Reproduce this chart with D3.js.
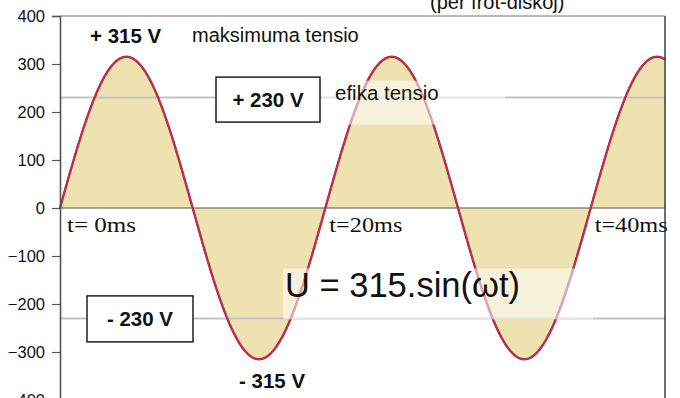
<!DOCTYPE html>
<html>
<head>
<meta charset="utf-8">
<script src="https://cdn.jsdelivr.net/npm/d3@7"></script>
<style>
  html, body { margin: 0; padding: 0; background: #fff; }
  svg { display: block; }
</style>
</head>
<body>
<svg id="chart" width="680" height="398"></svg>
<script>
// Mains voltage: U = 315·sin(ωt), 50 Hz (period 20 ms)
const amplitude = 315;          // peak voltage (V)
const rmsVoltage = 230;         // effective voltage (V)
const periodMs = 20;            // one cycle
const timeRange = [0, 45.6];    // ms shown
const yTicks = [400, 300, 200, 100, 0, -100, -200, -300, -400];
const timeMarks = [
  { t: 0, label: "t= 0ms" },
  { t: 20, label: "t=20ms" },
  { t: 40, label: "t=40ms" }
];

const svg = d3.select("#chart");
const plotLeft = 60, plotRight = 665, plotTop = 16, plotBottom = 400;

const x = d3.scaleLinear().domain(timeRange).range([plotLeft, plotRight]);
const y = d3.scaleLinear().domain([-400, 400]).range([plotBottom, plotTop]);

// sample the waveform finely along the visible time range
const samples = d3.range(timeRange[0], timeRange[1] + 0.0001, 0.05)
  .map(t => ({ t, u: amplitude * Math.sin(2 * Math.PI * t / periodMs) }));

const sans = "'Liberation Sans', Arial, sans-serif";
const serif = "'Liberation Serif', 'Times New Roman', serif";

// shaded area between curve and zero
svg.append("path")
  .datum(samples)
  .attr("fill", "#EEE2B0")
  .attr("d", d3.area().x(d => x(d.t)).y0(y(0)).y1(d => y(d.u)));

// ±230 V reference lines
[rmsVoltage, -rmsVoltage].forEach(v => {
  svg.append("line")
    .attr("x1", plotLeft).attr("x2", plotRight)
    .attr("y1", y(v)).attr("y2", y(v))
    .attr("stroke", "#c4c4c4").attr("stroke-width", 2);
});

// zero line
svg.append("line")
  .attr("x1", plotLeft).attr("x2", plotRight)
  .attr("y1", y(0)).attr("y2", y(0))
  .attr("stroke", "#555").attr("stroke-width", 1);

// waveform outline
const line = d3.line().x(d => x(d.t)).y(d => y(d.u));
svg.append("path").datum(samples)
  .attr("fill", "none").attr("stroke", "#5a4f86").attr("stroke-width", 2.4)
  .attr("d", line);
svg.append("path").datum(samples)
  .attr("fill", "none").attr("stroke", "#E8202C").attr("stroke-width", 1.6)
  .attr("d", line);

// frame: top and right edges
svg.append("line").attr("x1", plotLeft).attr("x2", plotRight).attr("y1", plotTop).attr("y2", plotTop)
  .attr("stroke", "#777").attr("stroke-width", 1.2);

// y axis
const yAxis = svg.append("g")
  .attr("transform", `translate(${plotLeft},0)`)
  .call(d3.axisLeft(y).tickValues(yTicks).tickSize(8).tickPadding(7).tickFormat(d3.format("d")));
yAxis.select(".domain").attr("stroke", "#555").attr("stroke-width", 1.6);
yAxis.selectAll(".tick line").attr("stroke", "#555").attr("stroke-width", 1.2);
yAxis.selectAll(".tick text")
  .attr("fill", "#111").style("font-family", sans).style("font-size", "16.5px");

// translucent label panels
svg.append("rect")
  .attr("x", 322).attr("y", y(rmsVoltage) - 17).attr("width", 183).attr("height", 44)
  .attr("fill", "#fff").attr("fill-opacity", 0.55);
svg.append("rect")
  .attr("x", 283).attr("y", y(-rmsVoltage) - 50).attr("width", 310).attr("height", 51)
  .attr("fill", "#fff").attr("fill-opacity", 0.55);

// boxed ±230 V labels
function boxedLabel(cx, cy, w, h, text) {
  svg.append("rect")
    .attr("x", cx - w / 2).attr("y", cy - h / 2).attr("width", w).attr("height", h)
    .attr("fill", "#fff").attr("stroke", "#111").attr("stroke-width", 1.4);
  svg.append("text")
    .attr("x", cx).attr("y", cy + 7.5)
    .attr("text-anchor", "middle")
    .style("font-family", sans).style("font-weight", "bold").style("font-size", "20.5px")
    .attr("fill", "#111").text(text);
}
boxedLabel(268, y(rmsVoltage) + 2, 104, 45, "+ " + rmsVoltage + " V");
boxedLabel(140, y(-rmsVoltage) + 0.5, 106, 46, "- " + rmsVoltage + " V");

// peak labels
svg.append("text").attr("x", 90).attr("y", 43)
  .style("font-family", sans).style("font-weight", "bold").style("font-size", "20.5px")
  .attr("fill", "#111").text("+ " + amplitude + " V");
svg.append("text").attr("x", 239).attr("y", 388)
  .style("font-family", sans).style("font-weight", "bold").style("font-size", "20.5px")
  .attr("fill", "#111").text("- " + amplitude + " V");

// descriptive texts
svg.append("text").attr("x", 192).attr("y", 42)
  .style("font-family", sans).style("font-size", "20px")
  .attr("fill", "#111").text("maksimuma tensio");
svg.append("text").attr("x", 335).attr("y", 100)
  .style("font-family", sans).style("font-size", "20.5px")
  .attr("fill", "#111").text("efika tensio");
svg.append("text").attr("x", 430).attr("y", 9)
  .style("font-family", sans).style("font-size", "20px")
  .attr("fill", "#111").text("(per frot-diskoj)");
svg.append("text").attr("x", 285).attr("y", 297)
  .style("font-family", sans).style("font-size", "34.5px")
  .attr("fill", "#111").text("U = " + amplitude + ".sin(ωt)");

// time markers
svg.selectAll("text.tmark").data(timeMarks).join("text")
  .attr("class", "tmark")
  .attr("x", d => x(d.t) + (d.t === 0 ? 7 : 4))
  .attr("y", 232)
  .attr("textLength", d => d.t === 0 ? 69 : 73)
  .attr("lengthAdjust", "spacingAndGlyphs")
  .style("font-family", serif).style("font-size", "21px")
  .attr("fill", "#111")
  .text(d => d.label);

// right edge of the frame, drawn last so it sits over the last time label
svg.append("line").attr("x1", plotRight).attr("x2", plotRight).attr("y1", plotTop).attr("y2", 398)
  .attr("stroke", "#333").attr("stroke-width", 1.4);
</script>
</body>
</html>
